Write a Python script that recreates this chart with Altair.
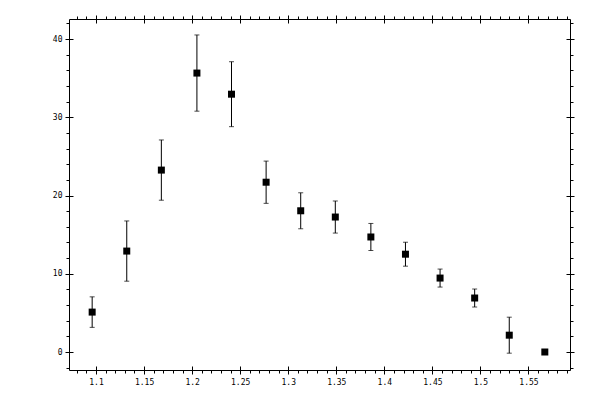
import json
import altair as alt
import pandas as pd

# ---- data ----
x_vals = [1.096, 1.132, 1.168, 1.205, 1.241, 1.277, 1.313, 1.349, 1.386, 1.422, 1.458, 1.494, 1.530, 1.567]
y_vals = [5.1, 12.9, 23.25, 35.65, 32.95, 21.7, 18.05, 17.25, 14.7, 12.5, 9.45, 6.9, 2.15, 0.0]
y_err = [1.95, 3.85, 3.85, 4.87, 4.15, 2.7, 2.3, 2.05, 1.73, 1.53, 1.15, 1.15, 2.3, 0.0]

x_major = [1.1, 1.15, 1.2, 1.25, 1.3, 1.35, 1.4, 1.45, 1.5, 1.55]
x_minor = [1.08, 1.09, 1.1, 1.11, 1.12, 1.13, 1.14, 1.15, 1.16, 1.17, 1.18, 1.19,
           1.2, 1.21, 1.22, 1.23, 1.24, 1.25, 1.26, 1.27, 1.28, 1.29, 1.3, 1.31,
           1.32, 1.33, 1.34, 1.35, 1.36, 1.37, 1.38, 1.39, 1.4, 1.41, 1.42, 1.43,
           1.44, 1.45, 1.46, 1.47, 1.48, 1.49, 1.5, 1.51, 1.52, 1.53, 1.54, 1.55,
           1.56, 1.57, 1.58, 1.59]
y_major = [0, 10, 20, 30, 40]
y_minor = [-2, 0, 2, 4, 6, 8, 10, 12, 14, 16, 18, 20, 22, 24, 26, 28, 30, 32,
           34, 36, 38, 40, 42]

x_domain = [1.0719, 1.5932]
y_domain = [-2.30, 42.56]

W, H = 501, 351

df = pd.DataFrame({"x": x_vals, "y": y_vals, "err": y_err})
df["lo"] = df["y"] - df["err"]
df["hi"] = df["y"] + df["err"]

FONT = "DejaVu Sans Mono"

xs = alt.Scale(domain=x_domain, nice=False, zero=False)
ys = alt.Scale(domain=y_domain, nice=False, zero=False)

x_label_expr = "indexof(%s, datum.value) >= 0 ? format(datum.value, '~g') : ''" % json.dumps(x_major)
y_label_expr = "indexof(%s, datum.value) >= 0 ? format(datum.value, '~g') : ''" % json.dumps(y_major)

common = dict(grid=False, title=None, domainColor="black", tickColor="black",
              domainWidth=1, tickWidth=1)

# outward axes with labels (bottom / left)
ax_bottom = alt.Axis(orient="bottom", values=x_minor, tickSize=3, labelExpr=x_label_expr,
                     labelFont=FONT, labelFontSize=8, labelColor="black", labelPadding=5,
                     labelOverlap=False, labelFlush=False, **common)
ax_left = alt.Axis(orient="left", values=y_minor, tickSize=3, labelExpr=y_label_expr,
                   labelFont=FONT, labelFontSize=8, labelColor="black", labelPadding=4,
                   labelOverlap=False, labelFlush=False, **common)
# outward axes without labels (top / right)
ax_top = alt.Axis(orient="top", values=x_minor, tickSize=3, labels=False, **common)
ax_right = alt.Axis(orient="right", values=y_minor, tickSize=3, labels=False, **common)
# crossing major ticks
ax_cross_b = alt.Axis(orient="top", offset=-(H + 4), values=x_major, tickSize=8,
                      labels=False, domain=False, **common)
ax_cross_t = alt.Axis(orient="bottom", offset=-(H + 4), values=x_major, tickSize=8,
                      labels=False, domain=False, **common)
ax_cross_l = alt.Axis(orient="right", offset=-(W + 4), values=y_major, tickSize=8,
                      labels=False, domain=False, **common)
ax_cross_r = alt.Axis(orient="left", offset=-(W + 4), values=y_major, tickSize=8,
                      labels=False, domain=False, **common)

base = alt.Chart(df)

rules = base.mark_rule(color="black", strokeWidth=1).encode(
    x=alt.X("x:Q", scale=xs, axis=None),
    y=alt.Y("lo:Q", scale=ys, axis=None),
    y2="hi:Q",
)
cap_lo = base.mark_tick(color="black", orient="horizontal", size=5, thickness=1).encode(
    x=alt.X("x:Q", scale=xs, axis=None),
    y=alt.Y("lo:Q", scale=ys, axis=None),
)
cap_hi = base.mark_tick(color="black", orient="horizontal", size=5, thickness=1).encode(
    x=alt.X("x:Q", scale=xs, axis=None),
    y=alt.Y("hi:Q", scale=ys, axis=None),
)
squares = base.mark_square(color="black", size=49, opacity=1, filled=True).encode(
    x=alt.X("x:Q", scale=xs, axis=ax_bottom),
    y=alt.Y("y:Q", scale=ys, axis=ax_left),
)

def ghost(ax_x, ax_y):
    return base.mark_point(opacity=0).encode(
        x=alt.X("x:Q", scale=xs, axis=ax_x),
        y=alt.Y("y:Q", scale=ys, axis=ax_y),
    )

chart = alt.layer(
    rules, cap_lo, cap_hi, squares,
    ghost(ax_top, ax_right),
    ghost(ax_cross_b, ax_cross_l),
    ghost(ax_cross_t, ax_cross_r),
).resolve_axis(x="independent", y="independent").properties(
    width=W, height=H,
    autosize=alt.AutoSizeParams(type="none"),
    padding={"left": 61, "top": 11, "right": 22, "bottom": 22},
    background="white",
).configure_view(stroke=None)

chart.save("out.html", embed_options={"renderer": "svg", "actions": False})
